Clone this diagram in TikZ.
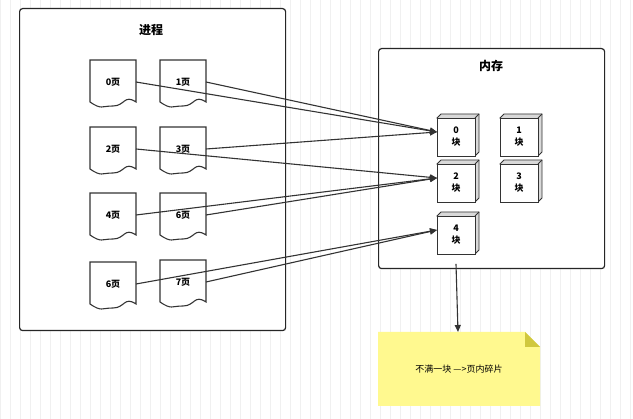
\documentclass[tikz,border=0pt]{standalone}
\usepackage{fontspec}
\setmainfont{Noto Sans CJK SC}
\usetikzlibrary{arrows.meta}
\begin{document}
\begin{tikzpicture}[x=1pt,y=-1pt,
  box/.style={draw=black!85,line width=1.2pt,rounded corners=3pt,fill=white},
  ln/.style={draw=black!80,line width=1.1pt},
  arr/.style={ln,-{Triangle[length=7pt,width=6pt]}},
  lbl/.style={font=\fontsize{9}{10}\selectfont\bfseries},
  ttl/.style={font=\fontsize{12}{13}\selectfont\bfseries}]
\useasboundingbox (0,0) rectangle (633,419);
\fill[white] (0,0) rectangle (633,419);
\draw[black!6,line width=0.4pt,step=10] (0,0) grid (633,419);
\newcommand{\docshape}[4]{% name x y label
  \draw[ln,fill=white] (#2,#3) -- ++(46,0) -- ++(0,42)
   .. controls ++(-12,-8) and ++(12,0) .. ++(-23,4)
   .. controls ++(-12,0) and ++(12,8) .. ++(-23,-4) -- cycle;
  \node[lbl,inner sep=0] (#1) at (#2+23,#3+22) {#4};
  \coordinate (#1r) at (#2+46,#3+22);}
\newcommand{\blk}[4]{% name x y label
  \draw[ln,line width=0.9pt,fill=black!15] (#2,#3) -- ++(4,-4) -- ++(38,0) -- ++(0,38) -- ++(-4,4) -- cycle;
  \draw[ln,line width=0.9pt,fill=white] (#2,#3) rectangle ++(38,38);
  \draw[ln,line width=0.9pt] (#2+38,#3) -- ++(4,-4);
  \node[lbl,align=center,inner sep=0,font=\fontsize{9}{12}\selectfont\bfseries] (#1) at (#2+19,#3+19) {#4};
  \coordinate (#1l) at (#2,#3+14);}
\node[box,minimum width=266,minimum height=322,anchor=north west] (proc) at (19,8) {};
\node[ttl] (pt) at (151,30) {进程};
\node[box,minimum width=226,minimum height=220,anchor=north west] (mem) at (378,48) {};
\node[ttl] (mt) at (491,66) {内存};
\docshape{p0}{90}{60}{0页}
\docshape{p1}{160}{60}{1页}
\docshape{p2}{90}{127}{2页}
\docshape{p3}{160}{127}{3页}
\docshape{p4}{90}{193}{4页}
\docshape{p5}{160}{193}{6页}
\docshape{p6}{90}{262}{6页}
\docshape{p7}{160}{260}{7页}
\blk{b0}{437}{118}{0\\块}
\blk{b1}{500}{118}{1\\块}
\blk{b2}{437}{164}{2\\块}
\blk{b3}{500}{164}{3\\块}
\blk{b4}{437}{216}{4\\块}
\draw[arr] (p0r) -- (b0l);
\draw[arr] (p1r) -- (b0l);
\draw[arr] (p3r) -- (b0l);
\draw[arr] (p2r) -- (b2l);
\draw[arr] (p4r) -- (b2l);
\draw[arr] (p5r) -- (b2l);
\draw[arr] (p6r) -- (b4l);
\draw[arr] (p7r) -- (b4l);
\fill[yellow!45!white,fill=white!20!yellow!55] (378,332) -- (525,332) -- (540,347) -- (540,406) -- (378,406) -- cycle;
\fill[fill=olive!60!yellow!70] (525,332) -- (540,347) -- (525,347) -- cycle;
\node[lbl,font=\fontsize{9}{10}\selectfont] (note) at (459,369) {不满一块 ---{}>页内碎片};
\coordinate (nt) at (458,332);
\draw[arr] (b4.south) ++(0,19) -- (nt);
\end{tikzpicture}
\end{document}
